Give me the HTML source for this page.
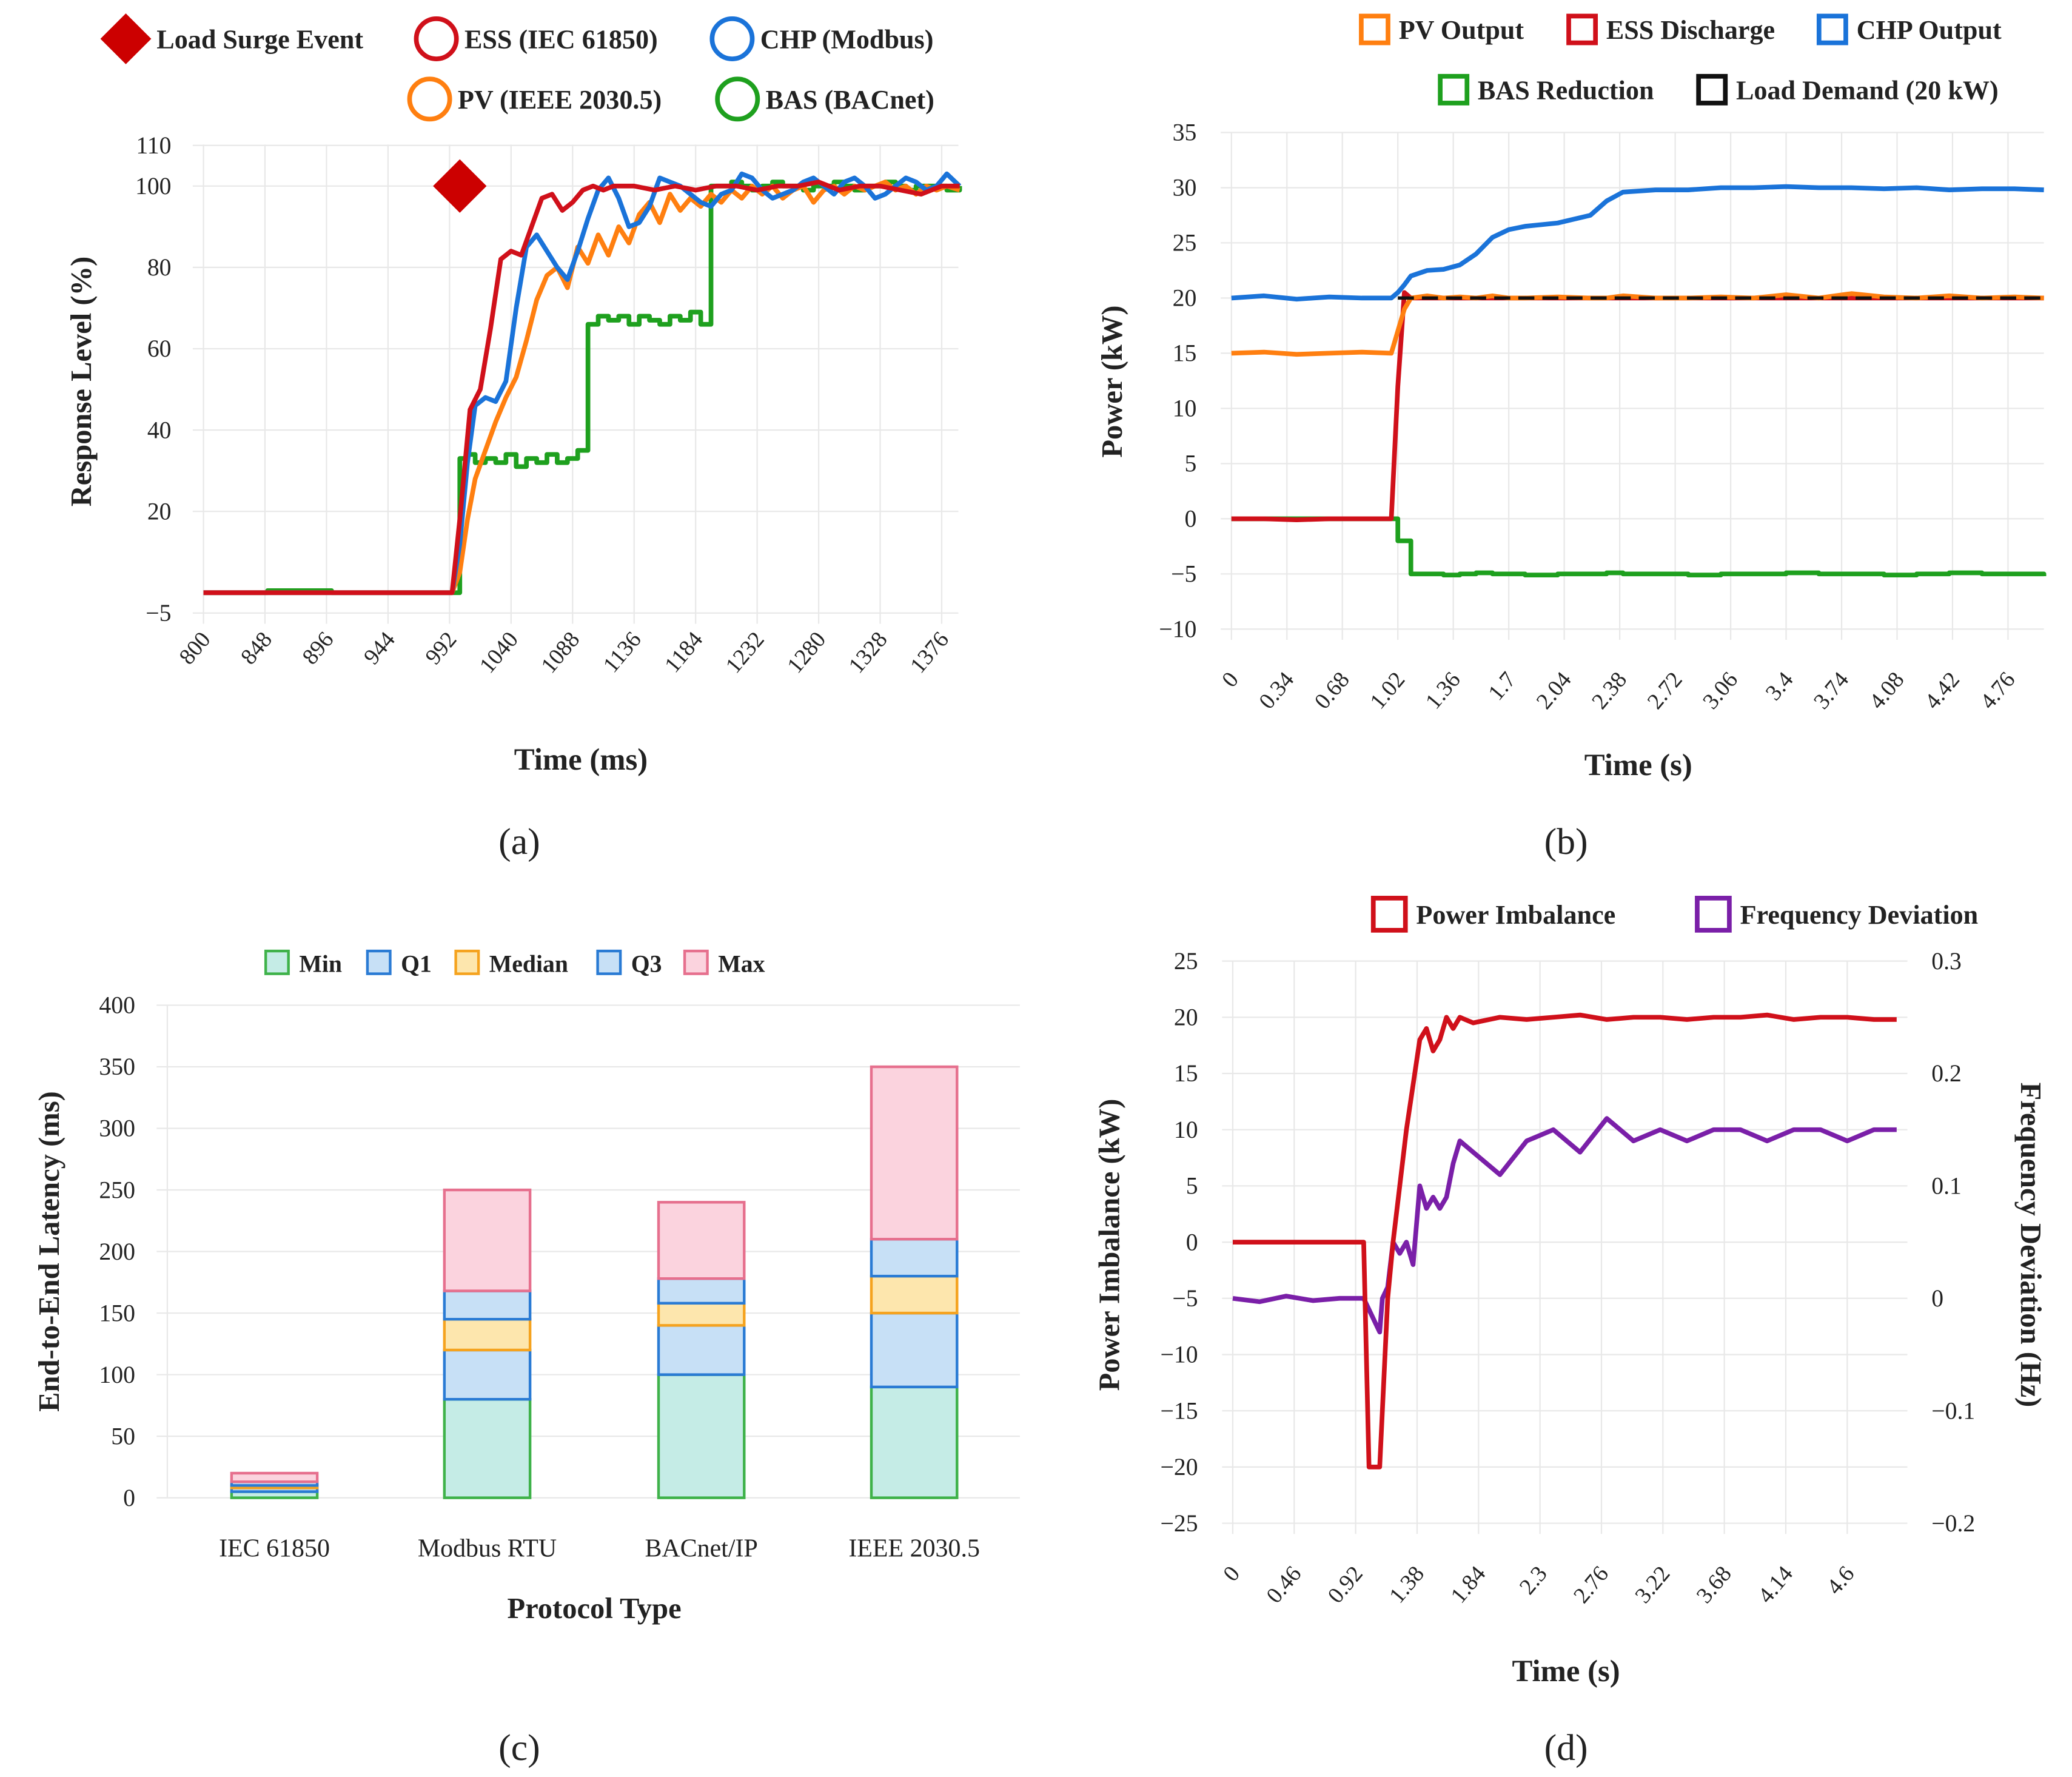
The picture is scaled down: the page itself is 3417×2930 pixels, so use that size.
<!DOCTYPE html>
<html><head><meta charset="utf-8"><style>
html,body{margin:0;padding:0;background:#fff}
svg{display:block}
text{font-family:"Liberation Serif",serif;fill:#222}
</style></head><body>
<svg id="fig" xmlns="http://www.w3.org/2000/svg" width="3417" height="2930" viewBox="0 0 1548 1327.6" preserveAspectRatio="none"></svg>
<script>
// ---------- Panel (a) data ----------
const aTicksX = [800,848,896,944,992,1040,1088,1136,1184,1232,1280,1328,1376];
const aTicksY = [-5,20,40,60,80,100,110];
const essT = [800,850,900,950,994,1000,1008,1016,1024,1032,1040,1048,1056,1064,1072,1080,1088,1096,1104,1112,1120,1136,1152,1168,1184,1200,1216,1232,1248,1264,1280,1296,1312,1328,1344,1360,1376,1390];
const essV = [0,0,0,0,0,18,45,50,65,82,84,83,90,97,98,94,96,99,100,99,100,100,99,100,99,100,100,99,100,100,101,99,100,100,99,98,100,100];
const tA = [800,850,900,950,994,1000,1006,1012,1020,1028,1036,1044,1052,1060,1068,1076,1084,1092,1100,1108,1116,1124,1132,1140,1148,1156,1164,1172,1180,1188,1196,1204,1212,1220,1228,1236,1244,1252,1260,1268,1276,1284,1292,1300,1308,1316,1324,1332,1340,1348,1356,1364,1372,1380,1390];
const basV = [0,0.5,0,0,0,33,34,32,33,32,34,31,33,32,34,32,33,35,66,68,67,68,66,68,67,66,68,67,69,66,100,100,101,100,99,100,101,100,100,99,100,100,101,100,99,100,100,101,100,99,100,100,100,99,100];
const chpV = [0,0,0,0,0,12,32,46,48,47,52,70,85,88,84,80,77,84,92,99,102,97,90,91,95,102,101,100,98,96,95,98,99,103,102,99,97,98,99,101,102,100,98,101,102,100,97,98,100,102,101,99,100,103,100];
const pvV = [0,0,0,0,0,5,18,28,35,42,48,53,62,72,78,80,75,85,81,88,83,90,86,93,96,91,98,94,97,95,98,96,99,97,100,98,100,97,99,100,96,99,100,98,100,99,100,101,99,100,98,100,99,100,99];
const surgeT = [1000], surgeV = [100];
// ---------- Panel (b) data ----------
const bTicksX = [0,0.34,0.68,1.02,1.36,1.7,2.04,2.38,2.72,3.06,3.4,3.74,4.08,4.42,4.76];
const bTicksY = [-10,-5,0,5,10,15,20,25,30,35];
const tB = [0,0.2,0.4,0.6,0.8,0.98,1.02,1.06,1.1,1.2,1.3,1.4,1.5,1.6,1.7,1.8,2.0,2.2,2.3,2.4,2.6,2.8,3.0,3.2,3.4,3.6,3.8,4.0,4.2,4.4,4.6,4.8,4.98];
const chpB = [20,20.2,19.9,20.1,20,20,20.5,21.2,22,22.5,22.6,23,24,25.5,26.2,26.5,26.8,27.5,28.8,29.6,29.8,29.8,30,30,30.1,30,30,29.9,30,29.8,29.9,29.9,29.8];
const pvB = [15,15.1,14.9,15,15.1,15,17,19,20,20.2,20,20.1,20,20.2,20,20,20.1,20,20,20.2,20,20,20.1,20,20.3,20,20.4,20.1,20,20.2,20,20.1,20];
const essB = [0,0,-0.1,0,0,0,12,20.5,20,20,20,20,20,20,20,20,20,20,20,20,20,20,20,20,20,20,20,20,20,20,20,20,20];
const basB = [0,0,0,0,0,0,-2,-2,-5,-5,-5.1,-5,-4.9,-5,-5,-5.1,-5,-5,-4.9,-5,-5,-5.1,-5,-5,-4.9,-5,-5,-5.1,-5,-4.9,-5,-5,-5.2];
const loadT = [1.02,4.98], loadV = [20,20];
// ---------- Panel (c) data ----------
const cCats = ["IEC 61850","Modbus RTU","BACnet/IP","IEEE 2030.5"];
const cMin = [5,80,100,90];
const cQ1 = [3,40,40,60];
const cMed = [2,25,18,30];
const cQ3 = [3,23,20,30];
const cMax = [7,82,62,140];
const cTicksY = [0,50,100,150,200,250,300,350,400];
// ---------- Panel (d) data ----------
const dTicksX = [0,0.46,0.92,1.38,1.84,2.3,2.76,3.22,3.68,4.14,4.6];
const dTicksL = [-25,-20,-15,-10,-5,0,5,10,15,20,25];
const dTicksR = [-0.2,-0.1,0,0.1,0.2,0.3];
const tD = [0,0.2,0.4,0.6,0.8,0.98,1.0,1.02,1.1,1.12,1.16,1.2,1.25,1.3,1.35,1.4,1.45,1.5,1.55,1.6,1.65,1.7,1.8,2.0,2.2,2.4,2.6,2.8,3.0,3.2,3.4,3.6,3.8,4.0,4.2,4.4,4.6,4.8,4.97];
const imbD = [0,0,0,0,0,0,-10,-20,-20,-15,-5,0,5,10,14,18,19,17,18,20,19,20,19.5,20,19.8,20,20.2,19.8,20,20,19.8,20,20,20.2,19.8,20,20,19.8,19.8];
const freqD = [0,-0.003,0.002,-0.002,0,0,-0.005,-0.01,-0.03,0.0,0.01,0.05,0.04,0.05,0.03,0.1,0.08,0.09,0.08,0.09,0.12,0.14,0.13,0.11,0.14,0.15,0.13,0.16,0.14,0.15,0.14,0.15,0.15,0.14,0.15,0.15,0.14,0.15,0.15];

const NS = "http://www.w3.org/2000/svg";
const svg = document.getElementById('fig');
function mk(tag, parent){ const e=document.createElementNS(NS,tag); (parent||svg).appendChild(e); return e; }
function lin(d0,d1,r0,r1){ return v => r0 + (v-d0)*(r1-r0)/(d1-d0); }
function txt(x,y,s,size,name,opts){
  const t=mk('text'); t.setAttribute('x',x); t.setAttribute('y',y); t.setAttribute('font-size',size);
  
  
  opts=opts||{};
  if(opts.anchor) t.setAttribute('text-anchor',opts.anchor);
  if(opts.bold) t.setAttribute('font-weight','bold');
  if(opts.rot!==undefined) t.setAttribute('transform','rotate('+opts.rot+' '+x+' '+y+')');
  t.textContent=s; return t;
}
function gl(x1,y1,x2,y2,col,w,name){
  const l=mk('line'); l.setAttribute('x1',x1); l.setAttribute('y1',y1); l.setAttribute('x2',x2); l.setAttribute('y2',y2);
  l.setAttribute('stroke',col); l.setAttribute('stroke-width',w);
  
  
  return l;
}
function series(xs,ys,sx,sy,col,w,name,step,dash){
  let d='';
  for(let i=0;i<xs.length;i++){
    const X=sx(xs[i]), Y=sy(ys[i]);
    if(i===0) d+='M'+X+' '+Y;
    else if(step) d+=' H'+X+' V'+Y;
    else d+=' L'+X+' '+Y;
  }
  const p=mk('path'); p.setAttribute('d',d); p.setAttribute('fill','none'); p.setAttribute('stroke',col);
  p.setAttribute('stroke-width',w); p.setAttribute('stroke-linejoin','round');
  if(dash) p.setAttribute('stroke-dasharray',dash);
  
  
  return p;
}
function legCircle(x,y,col,label,name){
  const c=mk('circle'); c.setAttribute('cx',x); c.setAttribute('cy',y); c.setAttribute('r',15);
  c.setAttribute('fill','none'); c.setAttribute('stroke',col); c.setAttribute('stroke-width',3.5);
  
  
  txt(x+21,y+7,label,20,name,{bold:true});
}
function legSquare(x,y,col,label,name,size,fill){
  size=size||20;
  const r=mk('rect'); r.setAttribute('x',x-size/2); r.setAttribute('y',y-size/2); r.setAttribute('width',size); r.setAttribute('height',size);
  r.setAttribute('fill',fill||'none'); r.setAttribute('stroke',col); r.setAttribute('stroke-width',size>18?3.5:2);
  
  
  txt(x+size/2+8,y+7,label,size>18?20:18,name,{bold:true});
}

// ================= Panel (a) =================
(function(){
  const sx=lin(800,1389,152,716), sy=lin(-5,100,458,139);
  aTicksX.forEach(v=>gl(sx(v),108,sx(v),466,'#e8e8e8',1,'a-grid-x'));
  aTicksY.forEach(v=>gl(144,sy(v),716,sy(v),'#e8e8e8',1,'a-grid-y'));
  aTicksY.forEach(v=>txt(128,sy(v)+6,v<0?'\u22125':String(v),18,'a-y-tick',{anchor:'end'}));
  aTicksX.forEach(v=>txt(sx(v)+6,478,String(v),17,'a-x-tick',{anchor:'end',rot:-50}));
  series(tA,basV,sx,sy,'#1ea01e',3.5,'a-bas-line',true);
  series(tA,pvV,sx,sy,'#ff7f10',3.5,'a-pv-line');
  series(tA,chpV,sx,sy,'#1a73d9',3.5,'a-chp-line');
  series(essT,essV,sx,sy,'#d0101a',3.5,'a-ess-line');
  surgeT.forEach((t,i)=>{
    const X=sx(t), Y=sy(surgeV[i]);
    const p=mk('path'); p.setAttribute('d','M'+X+' '+(Y-20)+' L'+(X+20)+' '+Y+' L'+X+' '+(Y+20)+' L'+(X-20)+' '+Y+' Z');
    p.setAttribute('fill','#cc0000');
    
    
  });
  txt(68,285,'Response Level (%)',22,'a-y-axis-title',{anchor:'middle',bold:true,rot:-90});
  txt(434,575,'Time (ms)',23,'a-x-axis-title',{anchor:'middle',bold:true});
  const p=mk('path'); p.setAttribute('d','M94 10 L113 29 L94 48 L75 29 Z'); p.setAttribute('fill','#cc0000');
  
  
  txt(117,36,'Load Surge Event',20,'a-legend-surge',{bold:true});
  legCircle(326,29,'#d0101a','ESS (IEC 61850)','a-legend-ess');
  legCircle(547,29,'#1a73d9','CHP (Modbus)','a-legend-chp');
  legCircle(321,74,'#ff7f10','PV (IEEE 2030.5)','a-legend-pv');
  legCircle(551,74,'#1ea01e','BAS (BACnet)','a-legend-bas');
  txt(388,638,'(a)',28,'a-caption',{anchor:'middle'});
})();

// ================= Panel (b) =================
(function(){
  const sx=lin(0,4.98,920,1527), sy=lin(-10,35,470,99);
  bTicksX.forEach(v=>gl(sx(v),99,sx(v),478,'#e8e8e8',1,'b-grid-x'));
  bTicksY.forEach(v=>gl(912,sy(v),1527,sy(v),'#e8e8e8',1,'b-grid-y'));
  bTicksY.forEach(v=>txt(894,sy(v)+6,v<0?'\u2212'+(-v):String(v),18,'b-y-tick',{anchor:'end'}));
  bTicksX.forEach(v=>txt(sx(v)+6,508,String(v),17,'b-x-tick',{anchor:'end',rot:-50}));
  series(tB,basB,sx,sy,'#1ea01e',3.5,'b-bas-line',true);
  series(tB,chpB,sx,sy,'#1a73d9',3.5,'b-chp-line');
  series(tB,essB,sx,sy,'#d0101a',3.5,'b-ess-line');
  series(tB,pvB,sx,sy,'#ff7f10',3.5,'b-pv-line');
  series(loadT,loadV,sx,sy,'#111',2.5,'b-load-demand-line',false,'12 6');
  txt(838,285,'Power (kW)',22,'b-y-axis-title',{anchor:'middle',bold:true,rot:-90});
  txt(1224,579,'Time (s)',23,'b-x-axis-title',{anchor:'middle',bold:true});
  legSquare(1027,22,'#ff7f10','PV Output','b-legend-pv');
  legSquare(1182,22,'#d0101a','ESS Discharge','b-legend-ess');
  legSquare(1369,22,'#1a73d9','CHP Output','b-legend-chp');
  legSquare(1086,67,'#1ea01e','BAS Reduction','b-legend-bas');
  legSquare(1279,67,'#111','Load Demand (20 kW)','b-legend-load');
  txt(1170,638,'(b)',28,'b-caption',{anchor:'middle'});
})();

// ================= Panel (c) =================
(function(){
  const sy=lin(0,400,1119,751);
  const cx=[205,364,524,683], bw=64;
  cTicksY.forEach(v=>gl(117,sy(v),762,sy(v),'#e8e8e8',1,'c-grid-y'));
  gl(125,751,125,1119,'#e8e8e8',1,'c-axis-y');
  cTicksY.forEach(v=>txt(101,sy(v)+6,String(v),18,'c-y-tick',{anchor:'end'}));
  const segs=[[cMin,'#c5ece6','#3fb24a','min'],[cQ1,'#c7e0f6','#2a7bd4','q1'],[cMed,'#fde6ad','#f5a31f','median'],[cQ3,'#c7e0f6','#2a7bd4','q3'],[cMax,'#fbd3de','#e6708e','max']];
  cCats.forEach((c,i)=>{
    let base=0;
    segs.forEach(s=>{
      const v=s[0][i];
      const r=mk('rect'); r.setAttribute('x',cx[i]-bw/2); r.setAttribute('y',sy(base+v)); r.setAttribute('width',bw); r.setAttribute('height',sy(base)-sy(base+v));
      r.setAttribute('fill',s[1]); r.setAttribute('stroke',s[2]); r.setAttribute('stroke-width',2);
      
      
      base+=v;
    });
    txt(cx[i],1163,c,19,'c-x-tick',{anchor:'middle'});
  });
  txt(44,935,'End-to-End Latency (ms)',22,'c-y-axis-title',{anchor:'middle',bold:true,rot:-90});
  txt(444,1209,'Protocol Type',22,'c-x-axis-title',{anchor:'middle',bold:true});
  legSquare(207,719,'#3fb24a','Min','c-legend-min',17,'#c5ece6');
  legSquare(283,719,'#2a7bd4','Q1','c-legend-q1',17,'#c7e0f6');
  legSquare(349,719,'#f5a31f','Median','c-legend-median',17,'#fde6ad');
  legSquare(455,719,'#2a7bd4','Q3','c-legend-q3',17,'#c7e0f6');
  legSquare(520,719,'#e6708e','Max','c-legend-max',17,'#fbd3de');
  txt(388,1315,'(c)',28,'c-caption',{anchor:'middle'});
})();

// ================= Panel (d) =================
(function(){
  const sx=lin(0,4.97,921,1417), sy=lin(-25,25,1138,718), sr=lin(-0.2,0.3,1138,718);
  dTicksX.forEach(v=>gl(sx(v),718,sx(v),1146,'#e8e8e8',1,'d-grid-x'));
  dTicksL.forEach(v=>gl(913,sy(v),1425,sy(v),'#e8e8e8',1,'d-grid-y'));
  dTicksL.forEach(v=>txt(895,sy(v)+6,v<0?'\u2212'+(-v):String(v),18,'d-y-left-tick',{anchor:'end'}));
  dTicksR.forEach(v=>txt(1443,sr(v)+6,v<0?'\u2212'+String(-v):String(v),18,'d-y-right-tick'));
  dTicksX.forEach(v=>txt(sx(v)+6,1176,String(v),17,'d-x-tick',{anchor:'end',rot:-50}));
  series(tD,freqD,sx,sr,'#7a1fa8',3.5,'d-frequency-line');
  series(tD,imbD,sx,sy,'#d0101a',3.5,'d-imbalance-line');
  txt(836,930,'Power Imbalance (kW)',22,'d-y-left-title',{anchor:'middle',bold:true,rot:-90});
  txt(1510,930,'Frequency Deviation (Hz)',22,'d-y-right-title',{anchor:'middle',bold:true,rot:90});
  txt(1170,1256,'Time (s)',23,'d-x-axis-title',{anchor:'middle',bold:true});
  legSquare(1038,683,'#d0101a','Power Imbalance','d-legend-imbalance',24);
  legSquare(1280,683,'#7a1fa8','Frequency Deviation','d-legend-frequency',24);
  txt(1170,1315,'(d)',28,'d-caption',{anchor:'middle'});
})();
</script>
</body></html>
